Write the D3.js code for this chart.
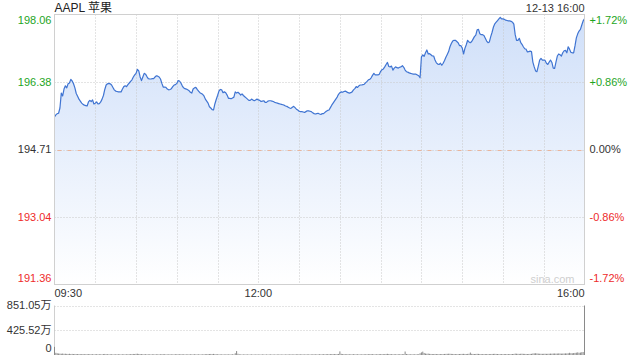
<!DOCTYPE html>
<html>
<head>
<meta charset="utf-8">
<script src="https://cdn.jsdelivr.net/npm/d3@7"></script>
<style>
  html, body { margin: 0; padding: 0; background: #fff; }
  svg { display: block; font-family: "Liberation Sans", Arial, "Noto Sans CJK SC", sans-serif; }
</style>
</head>
<body>
<svg id="chart" width="640" height="360"></svg>
<script>
const title = "AAPL 苹果";
const stamp = "12-13 16:00";
const prevClose = 194.71;

// price ticks (left) and change ticks (right)
const priceTicks = [198.06, 196.38, 194.71, 193.04, 191.36];
const pctTicks = ["+1.72%", "+0.86%", "0.00%", "-0.86%", "-1.72%"];
const timeTicks = [0, 150, 390];
const timeLabels = ["09:30", "12:00", "16:00"];
const volTicks = [851.05, 425.52, 0];
const volLabels = ["851.05万", "425.52万", "0"];

// one price per minute, 09:30 .. 16:00
const prices = [
  195.52,195.57,195.60,195.61,195.74,196.11,196.04,196.21,196.29,196.24,
  196.34,196.36,196.45,196.41,196.34,196.24,196.10,196.03,195.96,195.91,
  195.86,195.83,195.81,195.80,195.79,195.89,195.93,195.90,195.94,195.84,
  195.86,195.89,195.84,195.85,195.89,195.96,196.05,196.20,196.31,196.34,
  196.35,196.34,196.31,196.25,196.19,196.16,196.15,196.14,196.14,196.14,
  196.21,196.27,196.29,196.27,196.32,196.36,196.40,196.44,196.51,196.56,
  196.60,196.70,196.66,196.51,196.42,196.51,196.60,196.58,196.52,196.47,
  196.46,196.46,196.47,196.47,196.51,196.54,196.53,196.51,196.46,196.35,
  196.26,196.26,196.25,196.21,196.19,196.20,196.22,196.27,196.31,196.32,
  196.35,196.42,196.41,196.36,196.29,196.24,196.22,196.21,196.19,196.17,
  196.13,196.11,196.21,196.24,196.25,196.20,196.16,196.12,196.10,196.08,
  196.04,195.96,195.91,195.86,195.77,195.74,195.70,195.69,195.84,195.95,
  196.05,196.16,196.20,196.19,196.12,196.14,196.12,196.06,195.98,195.98,
  195.97,195.99,196.01,196.14,196.11,196.13,196.10,196.06,196.09,196.05,
  196.02,195.99,195.96,195.93,195.93,195.96,195.94,195.92,195.94,195.96,
  195.94,195.93,195.90,195.91,195.92,195.88,195.88,195.91,195.92,195.92,
  195.91,195.90,195.88,195.87,195.86,195.85,195.84,195.83,195.82,195.81,
  195.79,195.78,195.76,195.74,195.73,195.76,195.78,195.75,195.71,195.69,
  195.66,195.65,195.65,195.64,195.63,195.65,195.67,195.67,195.66,195.65,
  195.62,195.60,195.59,195.60,195.61,195.59,195.58,195.60,195.60,195.63,
  195.66,195.68,195.69,195.75,195.81,195.86,195.91,195.96,196.01,196.08,
  196.12,196.14,196.13,196.15,196.16,196.14,196.12,196.11,196.12,196.14,
  196.19,196.22,196.27,196.25,196.29,196.31,196.31,196.32,196.33,196.37,
  196.40,196.44,196.45,196.49,196.55,196.60,196.56,196.56,196.56,196.58,
  196.65,196.69,196.71,196.76,196.82,196.87,196.77,196.76,196.78,196.68,
  196.73,196.76,196.74,196.73,196.75,196.76,196.79,196.75,196.68,196.64,
  196.63,196.61,196.60,196.59,196.58,196.58,196.58,196.56,196.54,196.49,
  197.01,197.06,197.02,197.11,197.18,197.08,197.09,197.06,197.03,197.03,
  196.93,196.86,196.83,196.82,196.85,196.80,196.85,196.92,197.00,197.07,
  197.14,197.26,197.34,197.40,197.42,197.42,197.39,197.36,197.29,197.29,
  197.23,197.08,197.22,197.31,197.42,197.38,197.36,197.39,197.45,197.51,
  197.55,197.68,197.69,197.58,197.56,197.56,197.54,197.47,197.40,197.36,
  197.38,197.51,197.62,197.75,197.83,197.87,197.91,197.95,197.99,197.95,
  197.95,197.94,197.92,197.91,197.90,197.90,197.89,197.87,197.82,197.56,
  197.42,197.42,197.47,197.37,197.32,197.26,197.21,197.20,197.13,197.14,
  197.15,197.14,196.88,196.76,196.66,196.64,196.78,196.93,196.97,196.93,
  196.93,196.92,196.85,196.82,196.88,196.93,196.87,196.73,196.72,196.88,
  197.03,197.08,197.06,197.03,197.11,197.16,197.17,197.11,197.26,197.20,
  197.12,197.11,197.11,197.28,197.48,197.58,197.65,197.69,197.80,197.90,
  197.95
];

// volume per minute, in 万 shares
const volumes = [
  140,38,30,26,24,22,25,20,22,19,
  18,21,17,19,16,18,15,17,16,14,
  15,17,14,13,16,14,15,13,14,12,
  13,15,12,14,13,12,16,18,15,13,
  12,14,13,12,11,13,12,14,12,11,
  12,13,11,12,14,13,15,16,18,17,
  20,22,18,16,15,14,13,14,12,13,
  12,11,13,12,11,12,13,11,12,14,
  15,13,12,11,12,13,12,11,12,13,
  14,13,12,14,13,12,11,12,11,12,
  13,11,12,13,12,11,12,11,10,12,
  13,14,15,16,17,18,16,19,15,14,
  13,12,11,12,11,10,11,12,11,10,
  11,12,10,30,68,22,12,11,10,11,
  10,11,10,9,10,11,10,9,10,11,
  10,9,10,11,10,9,10,9,10,11,
  10,9,10,9,10,11,10,9,10,9,
  10,11,10,11,12,11,10,11,12,13,
  12,11,12,11,10,11,12,11,10,11,
  12,13,12,11,12,13,12,13,14,13,
  14,15,14,16,15,17,16,15,16,18,
  62,20,16,15,14,13,14,13,12,13,
  14,13,12,13,12,11,12,13,12,14,
  13,14,15,16,14,13,12,13,14,15,
  16,15,14,16,18,20,17,15,14,13,
  14,13,12,13,14,13,14,15,60,18,
  14,13,12,13,12,13,12,13,14,30,
  45,58,35,25,22,24,20,18,17,16,
  18,17,15,16,15,17,16,18,19,20,
  22,21,19,18,17,16,15,16,17,18,
  19,20,18,17,19,21,42,20,18,17,
  18,20,19,17,16,15,16,17,16,15,
  16,17,18,19,20,18,17,16,15,16,
  15,16,17,15,16,15,16,17,18,24,
  22,20,19,21,22,20,19,18,17,18,
  19,20,26,28,30,27,24,22,21,20,
  21,22,20,21,22,24,23,25,26,24,
  25,27,26,24,25,26,28,27,30,38,
  32,30,34,36,40,45,38,42,48,52,
  851.05
];

const svg = d3.select("#chart");
const plotLeft = 54.5, plotRight = 584.5;
const plotTop = 14.5, plotBottom = 284.5;
const volTop = 305.5, volBottom = 355;

const green = "#1ea51e";
const red = "#ee2b2b";
const dark = "#333";

const x = d3.scaleLinear().domain([0, 390]).range([plotLeft, plotRight]);
const y = d3.scaleLinear().domain([priceTicks[4], priceTicks[0]]).range([plotBottom, plotTop]);
const yv = d3.scaleLinear().domain([0, volTicks[0]]).range([volBottom, volTop]);

// gradient for the area
const defs = svg.append("defs");
const grad = defs.append("linearGradient")
  .attr("id", "fillGrad")
  .attr("gradientUnits", "userSpaceOnUse")
  .attr("x1", 0).attr("y1", plotTop).attr("x2", 0).attr("y2", plotBottom);
grad.append("stop").attr("offset", "0%").attr("stop-color", "#cfdff9");
grad.append("stop").attr("offset", "100%").attr("stop-color", "#ffffff");

// area
const area = d3.area()
  .x((d, i) => x(i))
  .y0(plotBottom)
  .y1(d => y(d));
svg.append("path")
  .datum(prices)
  .attr("d", area)
  .attr("fill", "url(#fillGrad)");

// grid
const grid = svg.append("g");
d3.range(1, 13).forEach(k => {
  grid.append("line")
    .attr("x1", Math.round(x(k * 30)) + 0.5).attr("x2", Math.round(x(k * 30)) + 0.5)
    .attr("y1", plotTop).attr("y2", plotBottom)
    .attr("stroke", "#c8c8c8").attr("stroke-dasharray", "1,2");
});
[priceTicks[1], priceTicks[2], priceTicks[3]].forEach(v => {
  grid.append("line")
    .attr("x1", plotLeft).attr("x2", plotRight)
    .attr("y1", Math.round(y(v)) + 0.5).attr("y2", Math.round(y(v)) + 0.5)
    .attr("stroke", "#c8c8c8").attr("stroke-dasharray", "1,2");
});
// previous close: light orange dashes over the dotted line
grid.append("line")
  .attr("x1", plotLeft + 3).attr("x2", plotRight)
  .attr("y1", Math.round(y(prevClose)) + 0.5).attr("y2", Math.round(y(prevClose)) + 0.5)
  .attr("stroke", "#eab59c").attr("stroke-dasharray", "4,6");

// price line
const line = d3.line()
  .x((d, i) => x(i))
  .y(d => y(d));
svg.append("path")
  .datum(prices)
  .attr("d", line)
  .attr("fill", "none")
  .attr("stroke", "#3f74d2")
  .attr("stroke-width", 1.2)
  .attr("stroke-linejoin", "round");

// frame
svg.append("rect")
  .attr("x", plotLeft).attr("y", plotTop)
  .attr("width", plotRight - plotLeft).attr("height", plotBottom - plotTop)
  .attr("fill", "none").attr("stroke", "#d0d0d0");

// watermark
svg.append("text")
  .attr("x", plotRight - 10).attr("y", plotBottom - 2)
  .attr("text-anchor", "end")
  .attr("font-size", 11).attr("fill", "#cfcfcf")
  .text("sina.com");

// header
svg.append("text")
  .attr("x", plotLeft).attr("y", 12)
  .attr("font-size", 12).attr("fill", "#222")
  .text(title);
svg.append("text")
  .attr("x", plotRight).attr("y", 12)
  .attr("text-anchor", "end")
  .attr("font-size", 11).attr("fill", dark)
  .text(stamp);

// y labels
const labelColor = v => v > prevClose ? green : (v < prevClose ? red : dark);
priceTicks.forEach((v, i) => {
  let ty = y(v);
  if (i === 0) ty += 6;
  if (i === priceTicks.length - 1) ty -= 6;
  svg.append("text")
    .attr("x", plotLeft - 3).attr("y", ty)
    .attr("dy", "0.35em")
    .attr("text-anchor", "end")
    .attr("font-size", 11)
    .attr("fill", labelColor(v))
    .text(v.toFixed(2));
  svg.append("text")
    .attr("x", plotRight + 5).attr("y", ty)
    .attr("dy", "0.35em")
    .attr("font-size", 11)
    .attr("fill", labelColor(v))
    .text(pctTicks[i]);
});

// time labels
timeTicks.forEach((t, i) => {
  const anchor = i === 0 ? "start" : (i === timeTicks.length - 1 ? "end" : "middle");
  svg.append("text")
    .attr("x", x(t)).attr("y", 293)
    .attr("dy", "0.35em")
    .attr("text-anchor", anchor)
    .attr("font-size", 11).attr("fill", dark)
    .text(timeLabels[i]);
});

// volume panel
svg.append("line")
  .attr("x1", plotLeft).attr("x2", plotLeft)
  .attr("y1", volTop).attr("y2", volBottom)
  .attr("stroke", "#d0d0d0");
[volTicks[0], volTicks[1]].forEach(v => {
  svg.append("line")
    .attr("x1", plotLeft).attr("x2", plotRight)
    .attr("y1", Math.round(yv(v)) + 0.5).attr("y2", Math.round(yv(v)) + 0.5)
    .attr("stroke", "#c8c8c8").attr("stroke-dasharray", "1,2");
});
volTicks.forEach((v, i) => {
  svg.append("text")
    .attr("x", plotLeft - 3).attr("y", i === 2 ? yv(v) - 7 : yv(v))
    .attr("dy", "0.35em")
    .attr("text-anchor", "end")
    .attr("font-size", 11).attr("fill", dark)
    .text(volLabels[i]);
});

svg.append("g")
  .selectAll("rect")
  .data(volumes)
  .join("rect")
  .attr("x", (d, i) => x(i) - 0.5)
  .attr("width", 1)
  .attr("y", d => yv(d))
  .attr("height", d => volBottom - yv(d))
  .attr("fill", "#8a8a8a");
</script>
</body>
</html>
